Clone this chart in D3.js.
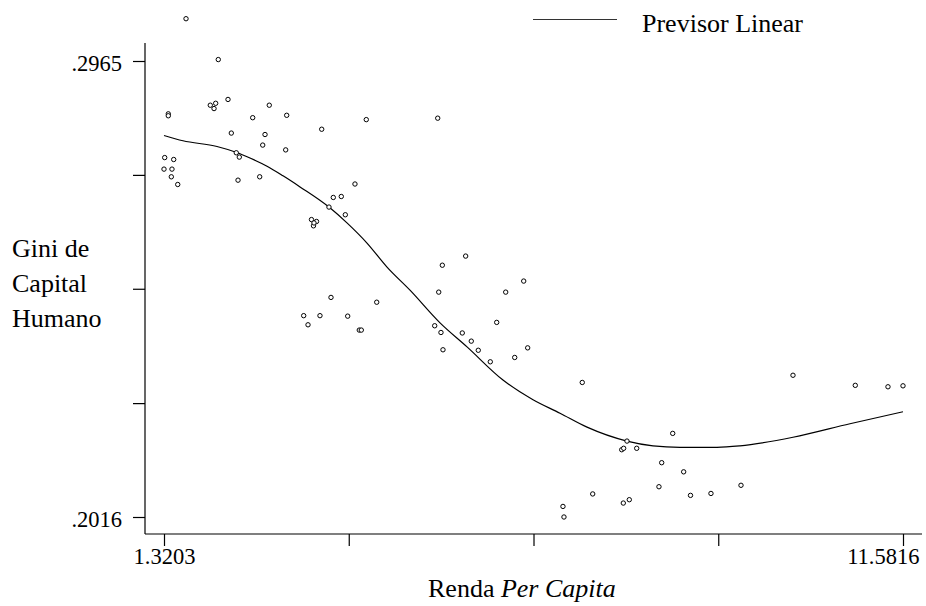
<!DOCTYPE html>
<html>
<head>
<meta charset="utf-8">
<script src="https://cdn.jsdelivr.net/npm/d3@7"></script>
<style>
  html, body { margin: 0; padding: 0; background: #fff; }
  svg { display: block; }
  text { font-family: "Liberation Serif", "Times New Roman", serif; fill: #000; }
</style>
</head>
<body>
<svg id="chart" width="926" height="606"></svg>
<script>
// ---- data ----
const pointX = [1.626, 2.074, 1.380, 1.380, 1.963, 2.038, 2.015, 2.209, 2.255, 2.552,
  2.782, 3.024, 2.723, 2.691, 3.010, 2.324, 2.366, 3.510, 4.129, 1.330,
  1.455, 1.3203, 1.431, 1.422, 1.511, 2.348, 2.649, 3.972, 3.671, 3.782,
  3.611, 3.838, 3.368, 3.438, 3.396, 3.403, 3.639, 4.274, 3.260, 3.486,
  3.320, 3.871, 4.032, 4.060, 5.121, 5.509, 5.185, 5.135, 6.065, 6.315,
  5.940, 5.079, 5.166, 5.462, 5.587, 5.684, 5.194, 5.851, 6.190, 6.370,
  7.128, 6.860, 6.874, 7.273, 7.698, 7.781, 7.749, 7.676, 7.703, 7.884,
  8.384, 8.231, 8.536, 8.193, 8.631, 8.915, 9.332, 10.054, 10.919, 11.373,
  11.5816];
const pointY = [0.3053, 0.2968, 0.2855, 0.2851, 0.2873, 0.2877, 0.2866, 0.2885, 0.2815, 0.2847,
  0.2873, 0.2852, 0.2812, 0.2790, 0.2780, 0.2774, 0.2765, 0.2823, 0.2843, 0.2764,
  0.2760, 0.2740, 0.2740, 0.2724, 0.2708, 0.2717, 0.2724, 0.2709, 0.2681, 0.2683,
  0.2661, 0.2645, 0.2635, 0.2631, 0.2622, 0.2628, 0.2473, 0.2463, 0.2435, 0.2435,
  0.2416, 0.2434, 0.2405, 0.2405, 0.2846, 0.2559, 0.2540, 0.2484, 0.2484, 0.2507,
  0.2421, 0.2414, 0.2400, 0.2399, 0.2382, 0.2363, 0.2364, 0.2339, 0.2348, 0.2368,
  0.2296, 0.2038, 0.2016, 0.2064, 0.2045, 0.2052, 0.2174, 0.2156, 0.2159, 0.2159,
  0.2190, 0.2129, 0.2110, 0.2079, 0.2061, 0.2065, 0.2082, 0.2311, 0.2290, 0.2287,
  0.2289];

const fitX = [1.3203, 1.584, 2.056, 2.320, 2.514, 2.751, 2.973, 3.209, 3.611, 3.861,
  4.139, 4.417, 4.736, 5.153, 5.528, 6.027, 6.444, 6.819, 7.194, 7.749,
  8.110, 8.485, 8.763, 8.999, 9.318, 10.054, 10.845, 11.5816];
const fitY = [0.2810, 0.2799, 0.2787, 0.2775, 0.2763, 0.2746, 0.2726, 0.2703, 0.2661, 0.2628,
  0.2586, 0.2536, 0.2488, 0.2420, 0.2370, 0.2301, 0.2260, 0.2232, 0.2203, 0.2174,
  0.2164, 0.2161, 0.2161, 0.2161, 0.2164, 0.2182, 0.2210, 0.2235];

const xTickValues = [1.3203, 3.8856, 6.4510, 9.0163, 11.5816];
const xTickLabels = ["1.3203", "", "", "", "11.5816"];
const yTickValues = [0.2016, 0.2253, 0.2491, 0.2728, 0.2965];
const yTickLabels = [".2016", "", "", "", ".2965"];

const legendLabel = "Previsor Linear";
const yTitleLines = ["Gini de", "Capital", "Humano"];

// ---- drawing ----
const svg = d3.select("#chart");
const axisX0 = 145, axisY0 = 534;

const x = d3.scaleLinear().domain([1.3203, 11.5816]).range([164, 903]);
const y = d3.scaleLinear().domain([0.2016, 0.2965]).range([517, 61]);

// axis lines
svg.append("line").attr("x1", axisX0).attr("x2", axisX0).attr("y1", 43).attr("y2", axisY0)
  .attr("stroke", "#000").attr("stroke-width", 1.2);
svg.append("line").attr("x1", axisX0).attr("x2", 922).attr("y1", axisY0).attr("y2", axisY0)
  .attr("stroke", "#000").attr("stroke-width", 1.2);

// x axis ticks
const gx = svg.append("g").attr("transform", `translate(0,${axisY0})`)
  .call(d3.axisBottom(x).tickValues(xTickValues).tickSize(12)
    .tickFormat((d, i) => xTickLabels[i]));
gx.select(".domain").remove();
gx.selectAll(".tick line").attr("stroke", "#000").attr("stroke-width", 1.2);
gx.selectAll(".tick text").attr("y", 30).attr("dy", 0)
  .style("font-family", "'Liberation Serif', serif").style("font-size", "22.5px").attr("fill", "#000");
gx.selectAll(".tick text").filter((d, i) => i === xTickValues.length - 1)
  .attr("text-anchor", "end").attr("x", 16);

// y axis ticks
const gy = svg.append("g").attr("transform", `translate(${axisX0},0)`)
  .call(d3.axisLeft(y).tickValues(yTickValues).tickSize(12)
    .tickFormat((d, i) => yTickLabels[i]));
gy.select(".domain").remove();
gy.selectAll(".tick line").attr("stroke", "#000").attr("stroke-width", 1.2);
gy.selectAll(".tick text").attr("x", -23).attr("dy", 0).attr("y", 9.5)
  .style("font-family", "'Liberation Serif', serif").style("font-size", "22.5px").attr("fill", "#000");

// fitted curve
const line = d3.line().x((d, i) => x(fitX[i])).y((d, i) => y(fitY[i])).curve(d3.curveMonotoneX);
svg.append("path").datum(fitX).attr("d", line)
  .attr("fill", "none").attr("stroke", "#000").attr("stroke-width", 1.2);

// points
svg.append("g").selectAll("circle").data(pointX).join("circle")
  .attr("cx", (d, i) => x(pointX[i])).attr("cy", (d, i) => y(pointY[i]))
  .attr("r", 2.2).attr("fill", "#fff").attr("stroke", "#000").attr("stroke-width", 1);

// legend
svg.append("line").attr("x1", 533).attr("x2", 617).attr("y1", 19.5).attr("y2", 19.5)
  .attr("stroke", "#333").attr("stroke-width", 1.2);
svg.append("text").attr("x", 642).attr("y", 32).style("font-size", "26px").text(legendLabel);

// axis titles
const xt = svg.append("text").attr("x", 428).attr("y", 597).style("font-size", "26px");
xt.append("tspan").text("Renda ");
xt.append("tspan").style("font-style", "italic").text("Per Capita");

const yt = svg.append("text").style("font-size", "26px");
yTitleLines.forEach((t, i) => {
  yt.append("tspan").attr("x", 12).attr("y", 257 + i * 35).text(t);
});
</script>
</body>
</html>
